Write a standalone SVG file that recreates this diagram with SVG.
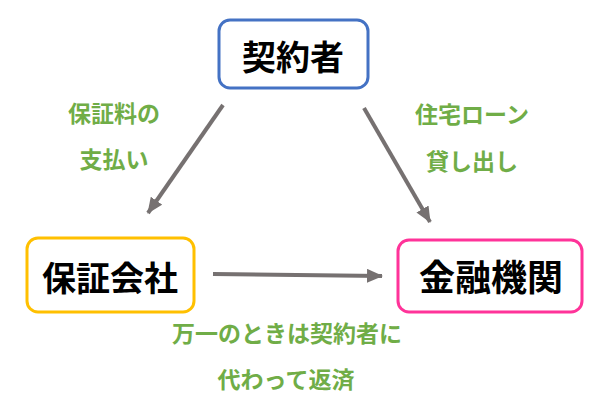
<svg xmlns="http://www.w3.org/2000/svg" width="607" height="405" viewBox="0 0 607 405">
<style>
.box{fill:#fff;stroke-width:3}
.nt{font-family:"Noto Sans CJK JP","Noto Sans CJK SC",sans-serif;font-weight:bold;font-size:34px;fill:#000;text-anchor:middle;dominant-baseline:central}
.lb{font-family:"Noto Sans CJK JP","Noto Sans CJK SC",sans-serif;font-weight:bold;font-size:23px;fill:#70AD47;text-anchor:middle;dominant-baseline:central}
.cn{stroke:#767171;stroke-width:4;fill:none;marker-end:url(#ah)}
</style>
<defs>
<marker id="ah" markerUnits="userSpaceOnUse" markerWidth="16" markerHeight="14" refX="15" refY="7" orient="auto">
<path d="M0,0 L16,7 L0,14 Z" fill="#767171"/>
</marker>
</defs>
<rect width="607" height="405" fill="#fff"/>
<g id="connectors">
<line class="cn" x1="223" y1="105" x2="148" y2="213"/>
<line class="cn" x1="364" y1="108" x2="430" y2="222"/>
<line class="cn" x1="213" y1="274" x2="382" y2="276"/>
</g>
<g id="node-keiyakusha">
<rect class="box" x="219" y="20" width="149" height="68" rx="11" stroke="#4472C4"/>
<text class="nt" x="293" y="55">契約者</text>
</g>
<g id="node-hoshougaisha">
<rect class="box" x="27" y="238" width="167" height="74" rx="11" stroke="#FFC000"/>
<text class="nt" x="110" y="276">保証会社</text>
</g>
<g id="node-kinyuukikan">
<rect class="box" x="398" y="240" width="184" height="72" rx="11" stroke="#FF3399"/>
<text class="nt" x="491" y="275" style="font-size:36px">金融機関</text>
</g>
<g id="labels">
<text class="lb" x="114" y="112">保証料の</text>
<text class="lb" x="114" y="158">支払い</text>
<text class="lb" x="472" y="113">住宅ローン</text>
<text class="lb" x="472" y="160">貸し出し</text>
<text class="lb" x="287" y="332">万一のときは契約者に</text>
<text class="lb" x="286" y="378">代わって返済</text>
</g>
</svg>
